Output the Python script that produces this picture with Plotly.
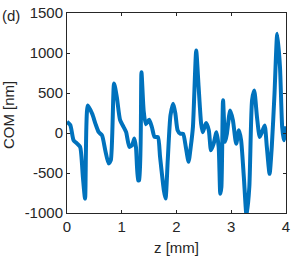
import plotly.graph_objects as go

z_mm = [0.00, 0.06, 0.12, 0.18, 0.24, 0.29, 0.33, 0.38, 0.46, 0.52, 0.58, 0.64, 0.70, 0.76, 0.80,
        0.86, 0.91, 0.97, 1.03, 1.08, 1.14, 1.19, 1.23, 1.26, 1.30, 1.32, 1.36, 1.40, 1.44, 1.50,
        1.55, 1.60, 1.66, 1.70, 1.77, 1.80, 1.84, 1.89, 1.94, 1.98, 2.02, 2.07, 2.12, 2.17, 2.22,
        2.26, 2.30, 2.36, 2.40, 2.45, 2.48, 2.54, 2.59, 2.63, 2.68, 2.73, 2.77, 2.80, 2.82, 2.85,
        2.89, 2.92, 2.98, 3.03, 3.09, 3.14, 3.18, 3.23, 3.28, 3.33, 3.38, 3.42, 3.47, 3.52, 3.56,
        3.61, 3.65, 3.70, 3.74, 3.79, 3.84, 3.89, 3.93, 3.96, 4.00]
com_nm = [140, 100, -90, -130, -175, -550, -820, 345, 240, 115, 10, -30, -220, -380, -340,
          620, 450, 160, 80, 10, -175, -150, -70, -180, -590, -590, 760, 280, 110, 165,
          75, -50, -50, -300, -720, -820, -340, 220, 365, 240, 35, -10, -10, -175, -360,
          -175, 75, 1030, 620, 115, 10, 125, 35, -215, -130, 10, -175, -760, -675, 410,
          -110, -10, 280, 160, -135, 35, -90, -550, -1040, -675, 410, 530, 200, -50, 10,
          95, -175, -510, -175, 490, 1240, 825, 75, -90, 85]

x_ticks = [0, 1, 2, 3, 4]
x_tick_labels = ["0", "1", "2", "3", "4"]
y_ticks = [-1000, -500, 0, 500, 1000, 1500]
y_tick_labels = ["-1000", "-500", "0", "500", "1000", "1500"]

axis_col = "#262626"
font_fam = "Liberation Sans, Arial, sans-serif"

fig = go.Figure()
fig.add_trace(go.Scatter(x=z_mm, y=com_nm, mode="lines",
                         line=dict(color="#0072BD", width=4, shape="spline", smoothing=0.6),
                         hoverinfo="skip", showlegend=False, cliponaxis=True))

fig.update_layout(
    width=293, height=261,
    margin=dict(l=67, r=7, t=13, b=48, autoexpand=False),
    paper_bgcolor="white", plot_bgcolor="white",
    font=dict(family=font_fam, size=15, color=axis_col),
    showlegend=False,
)
fig.update_xaxes(range=[0, 4], tickvals=x_ticks, ticktext=x_tick_labels, ticks="inside",
                 ticklen=3, tickwidth=1, tickcolor=axis_col, showline=True, linecolor=axis_col,
                 linewidth=1, mirror="ticks", showgrid=False, zeroline=False, automargin=False,
                 tickfont=dict(size=15, color=axis_col))
fig.update_yaxes(range=[-1000, 1500], tickvals=y_ticks, ticktext=y_tick_labels,
                 ticks="inside", ticklen=3, tickwidth=1, tickcolor=axis_col,
                 showline=True, linecolor=axis_col, linewidth=1, mirror="ticks",
                 showgrid=False, zeroline=False, automargin=False,
                 tickfont=dict(size=15, color=axis_col))
fig.add_annotation(text="z [mm]", xref="paper", yref="paper", x=0.5, y=-0.173,
                   xanchor="center", yanchor="middle", showarrow=False,
                   font=dict(size=15, color=axis_col))
fig.add_annotation(text="COM [nm]", xref="paper", yref="paper", x=-0.269, y=0.49,
                   xanchor="center", yanchor="middle", showarrow=False, textangle=-90,
                   font=dict(size=15, color=axis_col))
fig.add_annotation(text="(d)", xref="paper", yref="paper", x=-0.306, y=0.986,
                   xanchor="left", yanchor="middle", showarrow=False,
                   font=dict(size=15, color=axis_col))

fig.write_html("out.html", config={"displayModeBar": False},
               post_script="document.body.style.margin='0';document.body.style.overflow='hidden';")
